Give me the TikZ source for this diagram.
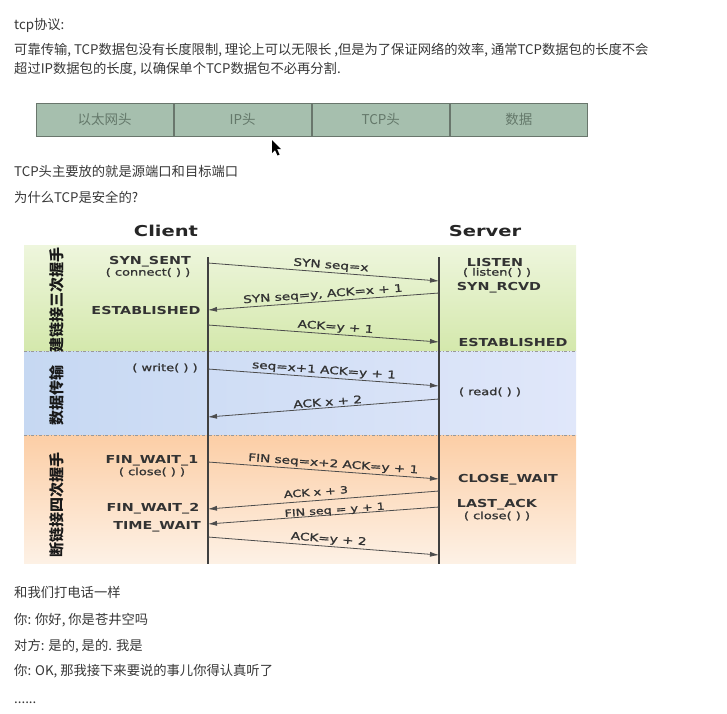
\documentclass[tikz,border=0pt]{standalone}
\usepackage{fontspec}
\setmainfont{Noto Sans CJK SC}
\newfontfamily\dgmfont[FakeStretch=1.3]{DejaVu Sans}
\newfontfamily\msgfont[FakeStretch=1.3, FakeBold=1.2]{DejaVu Sans}
\usetikzlibrary{arrows.meta, positioning}

\definecolor{txt}{RGB}{55,55,55}
\definecolor{cellfill}{RGB}{166,191,174}
\definecolor{cellline}{RGB}{105,118,108}
\definecolor{celltext}{RGB}{100,120,106}
\definecolor{gtop}{RGB}{238,246,221}
\definecolor{gbot}{RGB}{212,232,172}
\definecolor{bleft}{RGB}{198,216,242}
\definecolor{bright}{RGB}{224,231,250}
\definecolor{otop}{RGB}{252,206,166}
\definecolor{obot}{RGB}{253,241,229}

\tikzset{
  body/.style     = {anchor=west, inner sep=0pt, text=txt, text height=10pt, text depth=3pt, font=\fontsize{13.3}{16}\selectfont},
  cell/.style     = {draw=cellline, fill=cellfill, line width=0.8pt, minimum width=137.25pt, minimum height=33pt, inner sep=0pt, text=celltext, font=\fontsize{13.5}{15}\selectfont},
  role/.style     = {inner sep=0pt, text=black!85, font=\dgmfont\bfseries\fontsize{15}{18}\selectfont},
  state/.style    = {inner sep=0pt, text=black!80, font=\dgmfont\bfseries\fontsize{11}{13}\selectfont},
  call/.style     = {inner sep=0pt, text=black!80, font=\msgfont\fontsize{10}{12}\selectfont},
  phase/.style    = {rotate=90, inner sep=0pt, text=black!90, font=\bfseries\fontsize{15}{17}\selectfont},
  lifeline/.style = {draw=black!75, line width=1.1pt},
  sep/.style      = {draw=black!40, dash dot, line width=0.7pt},
  msg/.style      = {draw=black!70, line width=0.8pt, -{Latex[length=9pt, width=5pt]}},
  lbl/.style      = {sloped, above, inner sep=1.5pt, text=black!80, font=\msgfont\fontsize{10.5}{12}\selectfont},
  lblsm/.style    = {lbl, font=\msgfont\fontsize{9.8}{11}\selectfont}
}

\begin{document}
\begin{tikzpicture}[x=1pt, y=-1pt]
  \useasboundingbox (0,0) rectangle (727,713);

  % texte du haut
  \node[body] (t1) at (14,26) {tcp协议:};
  \node[body] (t2) at (14,51) {可靠传输, TCP数据包没有长度限制, 理论上可以无限长 ,但是为了保证网络的效率, 通常TCP数据包的长度不会};
  \node[body] (t3) at (14,70) {超过IP数据包的长度, 以确保单个TCP数据包不必再分割.};

  % en-tetes du paquet
  \node[cell] (eth) at (104.6,119.5) {以太网头};
  \node[cell, right=0pt of eth] (ip) {IP头};
  \node[cell, right=0pt of ip] (tcph) {TCP头};
  \node[cell, right=0pt of tcph] (dat) {数据};

  % curseur
  \fill[black] (272,140) -- (272,153) -- (275,150) -- (277.5,155.5) -- (279.5,154.5) -- (277,149) -- (281,149) -- cycle;

  \node[body] (t4) at (14,173) {TCP头主要放的就是源端口和目标端口};
  \node[body] (t5) at (14,199) {为什么TCP是安全的?};

  % ---------------- FONDS ----------------
  \fill[top color=gtop, bottom color=gbot] (24,245) rectangle (576,351);
  \fill[left color=bleft, right color=bright] (24,351) rectangle (576,435);
  \fill[top color=otop, bottom color=obot] (24,435) rectangle (576,563);
  \draw[sep] (24,351) -- (576,351);
  \draw[sep] (24,435) -- (576,435);

  \node[phase] (ph1) at (57,300) {建链接三次握手};
  \node[phase] (ph2) at (57,395) {数据传输};
  \node[phase] (ph3) at (57,505) {断链接四次握手};

  % ---------------- LIGNES DE VIE ----------------
  \node[role] (client) at (166,231) {Client};
  \node[role] (server) at (485,231) {Server};
  \coordinate (ctop) at (208,257); \coordinate (cbot) at (208,564);
  \coordinate (stop) at (439,257); \coordinate (sbot) at (439,564);
  \draw[lifeline] (ctop) -- (cbot);
  \draw[lifeline] (stop) -- (sbot);

  % etats client
  \node[state] (synsent) at (150,262) {SYN\_SENT};
  \node[call]  (conn)    at (148,272.5) {( connect( ) )};
  \node[state] (cest)    at (146,310) {ESTABLISHED};
  \node[call]  (wr)      at (165,368) {( write( ) )};
  \node[state] (fw1)     at (152,461) {FIN\_WAIT\_1};
  \node[call]  (cclose)  at (152,472) {( close( ) )};
  \node[state] (fw2)     at (153,509) {FIN\_WAIT\_2};
  \node[state] (tw)      at (157,527) {TIME\_WAIT};

  % etats serveur
  \node[state] (lis)     at (495,262) {LISTEN};
  \node[call]  (lisc)    at (497,272.5) {( listen( ) )};
  \node[state] (rcvd)    at (499,288) {SYN\_RCVD};
  \node[state] (sest)    at (513,342) {ESTABLISHED};
  \node[call]  (rd)      at (490,392) {( read( ) )};
  \node[state] (cw)      at (508,480) {CLOSE\_WAIT};
  \node[state] (lack)    at (497,505) {LAST\_ACK};
  \node[call]  (sclose)  at (497,516) {( close( ) )};

  % ---------------- MESSAGES ----------------
  \coordinate (c1) at (208,263); \coordinate (s1) at (439,281); \draw[msg] (c1) -- (s1) node[lbl,pos=.53]{SYN seq=x};
  \coordinate (s2) at (439,293); \coordinate (c2) at (208,310); \draw[msg] (s2) -- (c2) node[lbl,pos=.5]{SYN seq=y, ACK=x + 1};
  \coordinate (c3) at (208,325); \coordinate (s3) at (439,342); \draw[msg] (c3) -- (s3) node[lbl,pos=.55]{ACK=y + 1};

  \coordinate (c4) at (208,369); \coordinate (s4) at (439,386); \draw[msg] (c4) -- (s4) node[lbl,pos=.5]{seq=x+1 ACK=y + 1};
  \coordinate (s5) at (439,399); \coordinate (c5) at (208,417); \draw[msg] (s5) -- (c5) node[lbl,pos=.48]{ACK x + 2};

  \coordinate (c6) at (208,462); \coordinate (s6) at (439,479); \draw[msg] (c6) -- (s6) node[lbl,pos=.54]{FIN seq=x+2 ACK=y + 1};
  \coordinate (s7) at (439,491); \coordinate (c7) at (208,509); \draw[msg] (s7) -- (c7) node[lblsm,pos=.53,inner sep=4.5pt]{ACK x + 3};
  \coordinate (s8) at (439,507); \coordinate (c8) at (208,524); \draw[msg] (s8) -- (c8) node[lblsm,pos=.45,inner sep=0pt,above=-1pt]{FIN seq = y + 1};
  \coordinate (c9) at (208,537); \coordinate (s9) at (439,555); \draw[msg] (c9) -- (s9) node[lbl,pos=.52]{ACK=y + 2};

  % texte du bas
  \node[body] (b1) at (14,594) {和我们打电话一样};
  \node[body] (b2) at (14,621) {你: 你好, 你是苍井空吗};
  \node[body] (b3) at (14,647) {对方: 是的, 是的. 我是};
  \node[body] (b4) at (14,672) {你: OK, 那我接下来要说的事儿你得认真听了};
  \node[body] (b5) at (14,700) {......};

\end{tikzpicture}
\end{document}
